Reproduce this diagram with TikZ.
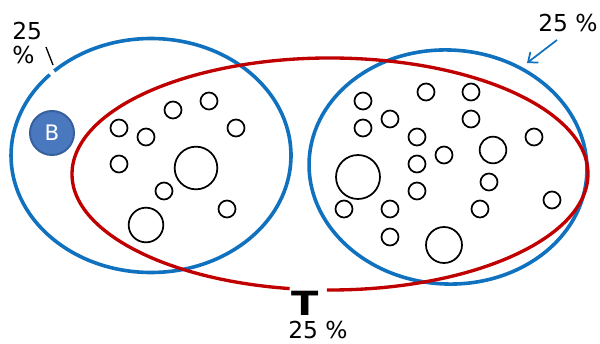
\documentclass[tikz,border=0pt]{standalone}
\usepackage{fontspec}
\setmainfont{DejaVu Sans}
\usepackage{tikz}
\usetikzlibrary{arrows.meta}

\definecolor{setblue}{RGB}{16,114,190}
\definecolor{setred}{RGB}{192,0,0}
\definecolor{bfill}{RGB}{74,120,190}
\definecolor{bline}{RGB}{54,96,158}

\begin{document}
\begin{tikzpicture}[x=0.75pt, y=-0.75pt,
	blob/.style={shape=circle, draw=black, line width=1.3pt, inner sep=0pt, minimum size=#1},
	blob/.default=12.75pt,
	blueset/.style={draw=setblue, line width=2.7pt},
	redset/.style={draw=setred, line width=2.5pt},
	lbl/.style={inner sep=0pt, font=\fontsize{17.5pt}{18pt}\selectfont}]
	\useasboundingbox (0,0) rectangle (600,343);

	% the two blue sets, the left one with a gap
	\draw[blueset] ([shift={(226.3:140 and 117)}]151,155.5) arc[start angle=226.3, end angle=583.7, x radius=140, y radius=117];
	\draw[blueset, rotate around={-3:(448,167)}] (448,167) ellipse[x radius=139, y radius=117];

	% the red set, open at the bottom
	\draw[redset] ([shift={(99:258 and 116)}]330,174) arc[start angle=99, end angle=450.7, x radius=258, y radius=116];

	\node[shape=circle, draw=bline, fill=bfill, line width=1.5pt, minimum size=33pt, inner sep=0pt, text=white, font=\fontsize{16pt}{16pt}\selectfont] (B) at (52,133) {B};

	\node[blob] (l1) at (119,128) {};
	\node[blob] (l2) at (146,137) {};
	\node[blob] (l3) at (173,110) {};
	\node[blob] (l4) at (209,101) {};
	\node[blob] (l5) at (236,128) {};
	\node[blob] (l6) at (119,164) {};
	\node[blob=32pt] (l7) at (196,168) {};
	\node[blob] (l8) at (164,191) {};
	\node[blob=26pt] (l9) at (146,225) {};
	\node[blob] (l10) at (227,209) {};

	\node[blob] (r1) at (363,101) {};
	\node[blob] (r2) at (426,92) {};
	\node[blob] (r3) at (471,92) {};
	\node[blob] (r4) at (363,128) {};
	\node[blob] (r5) at (390,119) {};
	\node[blob] (r6) at (471,119) {};
	\node[blob] (r7) at (417,137) {};
	\node[blob] (r8) at (444,155) {};
	\node[blob=20pt] (r9) at (493,150) {};
	\node[blob] (r10) at (534,137) {};
	\node[blob=33pt] (r11) at (358,177) {};
	\node[blob] (r12) at (417,164) {};
	\node[blob] (r13) at (417,191) {};
	\node[blob] (r14) at (489,182) {};
	\node[blob] (r15) at (344,209) {};
	\node[blob] (r16) at (390,209) {};
	\node[blob] (r17) at (480,209) {};
	\node[blob] (r18) at (552,200) {};
	\node[blob] (r19) at (390,237) {};
	\node[blob=27pt] (r20) at (444,245) {};

	% labels
	\node[lbl, align=left, anchor=north west] (pA) at (12,22) {25\\\%};
	\node[lbl, anchor=base] (pB) at (568,31) {25 \%};
	\node[lbl, anchor=base] (pC) at (318,338) {25 \%};
	\node[inner sep=0pt, anchor=base, xscale=1.2, font=\fontsize{25pt}{25pt}\selectfont\bfseries] (T) at (305,315) {T};

	\coordinate (tA) at (46,47);
	\coordinate (tB) at (53,65);
	\coordinate (aA) at (557,40);
	\coordinate (aB) at (527,63);

	\draw [black, line width=1pt] (tA) -- (tB);
	\draw [setblue, line width=1.3pt, -{Straight Barb[length=6pt, width=10pt]}] (aA) -- (aB);

\end{tikzpicture}
\end{document}
